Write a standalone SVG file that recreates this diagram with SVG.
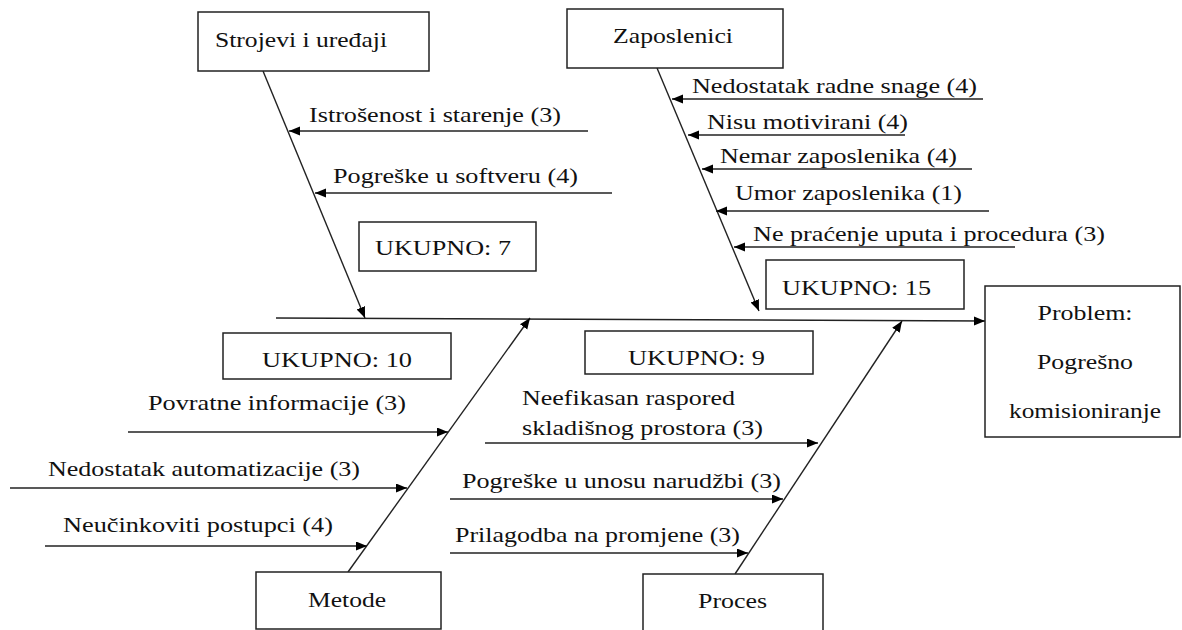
<svg xmlns="http://www.w3.org/2000/svg" width="1182" height="630" viewBox="0 0 1182 630">
<defs>
<marker id="ah" markerUnits="userSpaceOnUse" markerWidth="12" markerHeight="10" refX="11" refY="4.5" orient="auto">
<path d="M0,0 L11,4.5 L0,9 z" fill="#000"/>
</marker>
<style>
.box{fill:#fff;stroke:#222;stroke-width:1.5;}
.ln{stroke:#222;stroke-width:1.4;fill:none;marker-end:url(#ah);}
.c{text-anchor:middle;}
text{font-family:'Liberation Serif','Times New Roman',Times,'DejaVu Serif',serif;}
</style>
</defs>
<rect width="1182" height="630" fill="#fff"/>

<g id="connectors">
<line class="ln" x1="276" y1="318" x2="985" y2="321"/>
<line class="ln" x1="263" y1="71" x2="365" y2="318"/>
<line class="ln" x1="657" y1="68" x2="759" y2="311"/>
<line class="ln" x1="348" y1="572" x2="530" y2="318"/>
<line class="ln" x1="735" y1="574" x2="902" y2="321"/>
<line class="ln" x1="588" y1="131" x2="289" y2="131"/>
<line class="ln" x1="612" y1="193" x2="315" y2="193"/>
<line class="ln" x1="983" y1="99" x2="672" y2="99"/>
<line class="ln" x1="905" y1="135" x2="688" y2="135"/>
<line class="ln" x1="972" y1="169" x2="702" y2="169"/>
<line class="ln" x1="989" y1="211" x2="716" y2="211"/>
<line class="ln" x1="1015" y1="247" x2="734" y2="247"/>
<line class="ln" x1="128" y1="432" x2="448" y2="432"/>
<line class="ln" x1="10" y1="488" x2="407" y2="488"/>
<line class="ln" x1="45" y1="546" x2="367" y2="546"/>
<line class="ln" x1="485" y1="443" x2="818" y2="443"/>
<line class="ln" x1="450" y1="499" x2="783" y2="499"/>
<line class="ln" x1="450" y1="553" x2="748" y2="553"/>
</g>

<g font-family="'Liberation Serif', 'Times New Roman', serif" font-size="22" fill="#111">
<g id="labels">
<text x="309" y="122" textLength="252" lengthAdjust="spacingAndGlyphs">Istrošenost i starenje (3)</text>
<text x="333" y="183" textLength="245" lengthAdjust="spacingAndGlyphs">Pogreške u softveru (4)</text>
<text x="692" y="93" textLength="285" lengthAdjust="spacingAndGlyphs">Nedostatak radne snage (4)</text>
<text x="707" y="129" textLength="201" lengthAdjust="spacingAndGlyphs">Nisu motivirani (4)</text>
<text x="720" y="163" textLength="237" lengthAdjust="spacingAndGlyphs">Nemar zaposlenika (4)</text>
<text x="735" y="200" textLength="227" lengthAdjust="spacingAndGlyphs">Umor zaposlenika (1)</text>
<text x="753" y="241" textLength="352" lengthAdjust="spacingAndGlyphs">Ne praćenje uputa i procedura (3)</text>
<text x="148" y="410" textLength="258" lengthAdjust="spacingAndGlyphs">Povratne informacije (3)</text>
<text x="48" y="476" textLength="312" lengthAdjust="spacingAndGlyphs">Nedostatak automatizacije (3)</text>
<text x="63" y="532" textLength="270" lengthAdjust="spacingAndGlyphs">Neučinkoviti postupci (4)</text>
<text x="522" y="405" textLength="213" lengthAdjust="spacingAndGlyphs">Neefikasan raspored</text>
<text x="522" y="435" textLength="241" lengthAdjust="spacingAndGlyphs">skladišnog prostora (3)</text>
<text x="462" y="488" textLength="319" lengthAdjust="spacingAndGlyphs">Pogreške u unosu narudžbi (3)</text>
<text x="455" y="542" textLength="285" lengthAdjust="spacingAndGlyphs">Prilagodba na promjene (3)</text>
</g>

<g id="node-strojevi">
<rect class="box" x="198" y="12" width="231" height="59"/>
<text x="215" y="47" textLength="172" lengthAdjust="spacingAndGlyphs">Strojevi i uređaji</text>
</g>
<g id="node-zaposlenici">
<rect class="box" x="567" y="9" width="216" height="59"/>
<text x="613" y="43" textLength="120" lengthAdjust="spacingAndGlyphs">Zaposlenici</text>
</g>
<g id="node-ukupno7">
<rect class="box" x="359" y="222" width="177" height="49"/>
<text x="375" y="255" textLength="136" lengthAdjust="spacingAndGlyphs">UKUPNO: 7</text>
</g>
<g id="node-ukupno15">
<rect class="box" x="766" y="260" width="198" height="49"/>
<text x="782" y="295" textLength="149" lengthAdjust="spacingAndGlyphs">UKUPNO: 15</text>
</g>
<g id="node-ukupno10">
<rect class="box" x="223" y="333" width="228" height="46"/>
<text x="262" y="367" textLength="150" lengthAdjust="spacingAndGlyphs">UKUPNO: 10</text>
</g>
<g id="node-ukupno9">
<rect class="box" x="585" y="331" width="228" height="43"/>
<text x="628" y="365" textLength="137" lengthAdjust="spacingAndGlyphs">UKUPNO: 9</text>
</g>
<g id="node-problem">
<rect class="box" x="985" y="286" width="195" height="151"/>
<text class="c" x="1085" y="320" textLength="95" lengthAdjust="spacingAndGlyphs">Problem:</text>
<text class="c" x="1085" y="369" textLength="96" lengthAdjust="spacingAndGlyphs">Pogrešno</text>
<text class="c" x="1085" y="418" textLength="152" lengthAdjust="spacingAndGlyphs">komisioniranje</text>
</g>
<g id="node-metode">
<rect class="box" x="256" y="572" width="185" height="57"/>
<text x="308" y="607" textLength="78" lengthAdjust="spacingAndGlyphs">Metode</text>
</g>
<g id="node-proces">
<rect class="box" x="643" y="574" width="180" height="60"/>
<text x="698" y="608" textLength="69" lengthAdjust="spacingAndGlyphs">Proces</text>
</g>
</g>
</svg>
